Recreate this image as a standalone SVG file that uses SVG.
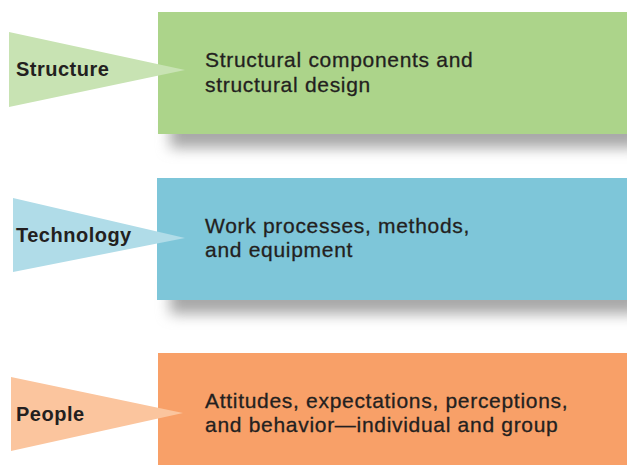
<svg xmlns="http://www.w3.org/2000/svg" width="627" height="465" viewBox="0 0 627 465">
<defs>
<filter id="sh" x="-10%" y="-100%" width="120%" height="300%"><feGaussianBlur stdDeviation="7"/></filter>
<style>
.lbl{font-family:"Liberation Sans",Arial,sans-serif;font-weight:bold;font-size:20px;letter-spacing:0.5px;fill:#231f20}
.txt{font-family:"Liberation Sans",Arial,sans-serif;font-size:21px;letter-spacing:0.7px;fill:#231f20;stroke:#231f20;stroke-width:0.3px}
.shadow{fill:#a8a8a8}
</style>
</defs>
<rect width="627" height="465" fill="#ffffff"/>
<g id="connectors"></g>
<g id="structure">
<rect class="shadow" x="170" y="118" width="470" height="30" filter="url(#sh)"/>
<rect x="158" y="12" width="469" height="122" fill="#acd48a"/>
<polygon points="9,32 185,70 9,107" fill="#c8e3b3"/>
<text class="lbl" x="16" y="76">Structure</text>
<text class="txt" x="205" y="67">Structural components and</text>
<text class="txt" x="205" y="92">structural design</text>
</g>
<g id="technology">
<rect class="shadow" x="170" y="284" width="470" height="30" filter="url(#sh)"/>
<rect x="157" y="178" width="470" height="122" fill="#7ec6d9"/>
<polygon points="13,198 185,238 13,272" fill="#b0dce8"/>
<text class="lbl" x="16" y="242">Technology</text>
<text class="txt" x="205" y="233">Work processes, methods,</text>
<text class="txt" x="205" y="257">and equipment</text>
</g>
<g id="people">
<rect x="158" y="353" width="469" height="112" fill="#f8a068"/>
<polygon points="11,377 183,413 11,451" fill="#fbc59e"/>
<text class="lbl" x="16" y="421">People</text>
<text class="txt" x="205" y="408">Attitudes, expectations, perceptions,</text>
<text class="txt" x="205" y="432">and behavior—individual and group</text>
</g>
</svg>
